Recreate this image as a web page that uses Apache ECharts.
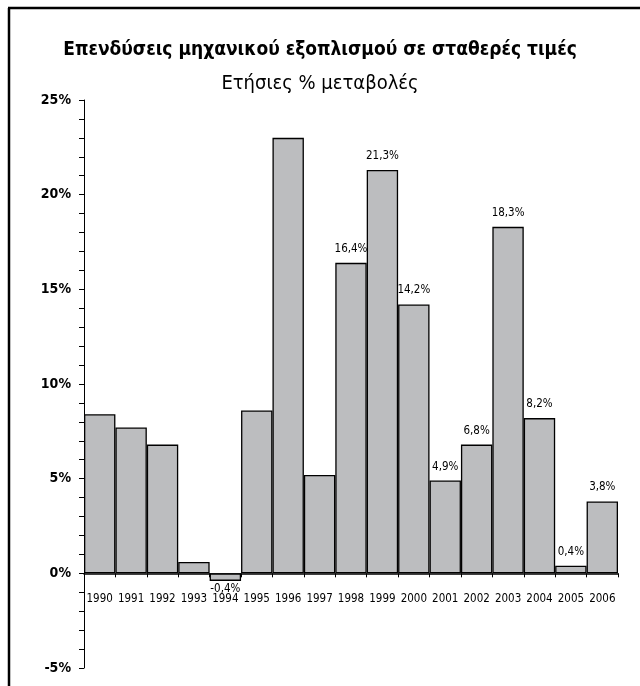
<!DOCTYPE html>
<html>
<head>
<meta charset="utf-8">
<script src="https://cdn.jsdelivr.net/npm/echarts@6/dist/echarts.min.js"></script>
<style>
    html, body { margin: 0; padding: 0; background: #fff; }
    #chart { width: 640px; height: 686px; }
</style>
</head>
<body>
<div id="chart"></div>
<script>
    // Δεδομένα
    const years = ['1990', '1991', '1992', '1993', '1994', '1995', '1996', '1997', '1998',
        '1999', '2000', '2001', '2002', '2003', '2004', '2005', '2006']
    const changes = [8.4, 7.7, 6.8, 0.6, -0.4, 8.6, 23.0, 5.2, 16.4, 21.3, 14.2, 4.9, 6.8, 18.3, 8.2, 0.4, 3.8]
    const labelledYears = ['1994', '1998', '1999', '2000', '2001', '2002', '2003', '2004', '2005', '2006']
    const yTicks = [-5, 0, 5, 10, 15, 20, 25]

    const narrow = '"DejaVu Sans Condensed", "Liberation Sans Narrow", sans-serif'

    const fmt = (v) => v.toFixed(1).replace('.', ',') + '%'

    let chart = echarts.init(document.getElementById('chart'))
    let option = {
        animation: false,
        title: [
            {
                text: 'Επενδύσεις μηχανικού εξοπλισμού σε σταθερές τιμές',
                left: 'center',
                top: 36,
                textStyle: { fontFamily: narrow, fontWeight: 'bold', fontSize: 19, color: '#000' }
            },
            {
                text: 'Ετήσιες % μεταβολές',
                left: 'center',
                top: 69,
                textStyle: { fontFamily: narrow, fontWeight: 'normal', fontSize: 20, color: '#000' }
            }
        ],
        // πλαίσιο (μόνο πάνω και αριστερά φαίνονται)
        graphic: [
            { type: 'line', shape: { x1: 8, y1: 8, x2: 640, y2: 8 }, style: { stroke: '#000', lineWidth: 2.5 } },
            { type: 'line', shape: { x1: 9, y1: 8, x2: 9, y2: 686 }, style: { stroke: '#000', lineWidth: 2.5 } }
        ],
        grid: {
            left: 84,
            right: 22,
            top: 100,
            bottom: 18,
            outerBoundsMode: 'none'
        },
        xAxis: {
            type: 'category',
            data: years,
            offset: 0, // μετακινείται στο 0% παρακάτω
            axisLine: { onZero: false, lineStyle: { color: '#000', width: 1.5 } },
            axisTick: { show: true, length: 4, lineStyle: { color: '#000' } },
            axisLabel: {
                interval: 0,
                hideOverlap: false,
                fontFamily: narrow,
                fontSize: 11.5,
                color: '#000',
                margin: 20
            }
        },
        yAxis: {
            type: 'value',
            min: yTicks[0],
            max: yTicks[yTicks.length - 1],
            interval: 5,
            splitLine: { show: false },
            axisLine: { show: true, lineStyle: { color: '#000', width: 1 } },
            axisTick: { show: true, length: 5, lineStyle: { color: '#000' } },
            minorTick: { show: true, splitNumber: 5, length: 5, lineStyle: { color: '#000' } },
            axisLabel: {
                fontFamily: narrow,
                fontWeight: 'bold',
                fontSize: 14,
                color: '#000',
                margin: 13,
                formatter: (v) => v + '%'
            }
        },
        series: [
            {
                type: 'bar',
                barCategoryGap: 0,
                itemStyle: { color: '#bcbdbf', borderColor: '#000', borderWidth: 1.3 },
                label: {
                    show: false,
                    fontFamily: narrow,
                    fontSize: 11.5,
                    color: '#000',
                    distance: 8,
                    formatter: (p) => fmt(p.value)
                },
                data: changes.map((v, i) => ({
                    value: v,
                    label: {
                        show: labelledYears.indexOf(years[i]) > -1,
                        position: v < 0 ? 'bottom' : 'top',
                        distance: v < 0 ? 2 : 8
                    }
                }))
            }
        ]
    }
    option && chart.setOption(option)

    // ο άξονας x (γραμμή και ετικέτες) πάνω στο 0%
    let zeroY = chart.convertToPixel({ yAxisIndex: 0 }, 0)
    let bottomY = chart.convertToPixel({ yAxisIndex: 0 }, yTicks[0])
    chart.setOption({ xAxis: { offset: zeroY - bottomY } })
</script>
</body>
</html>
